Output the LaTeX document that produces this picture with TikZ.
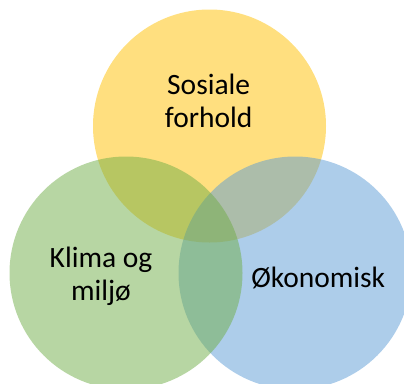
\documentclass[tikz,border=0pt]{standalone}
\usepackage{fontspec}
\setmainfont{Carlito}
\usepackage{tikz}
\usetikzlibrary{positioning}

\definecolor{gulsirkel}{HTML}{FFC000}
\definecolor{gronnsirkel}{HTML}{70AD47}
\definecolor{blasirkel}{HTML}{5B9BD5}

\tikzset{
  sirkel/.style={circle, inner sep=0pt, minimum size=233pt, fill opacity=0.5, text opacity=1},
  etikett/.style={align=center, font=\fontsize{29.5}{33}\selectfont, text=black}
}

\begin{document}
\begin{tikzpicture}[x=1pt,y=-1pt]
  \useasboundingbox (0,0) rectangle (404,383);
  \clip (0,0) rectangle (404,383);
  % sirklene (gul, blaa, gronn)
  \node[sirkel, fill=gulsirkel] (sosial) at (209.5,126) {};
  \node[sirkel, fill=blasirkel] (okonomi) at (295,273) {};
  \node[sirkel, fill=gronnsirkel] (klima) at (126,273) {};
  % tekster
  \node[etikett] (tsosial) at (208.7,100.5) {Sosiale\\forhold};
  \node[etikett] (tklima) at (101,276.5) {Klima og\\milj\o};
  \node[etikett] (tokonomi) at (318.2,278) {\O konomisk};
\end{tikzpicture}
\end{document}
